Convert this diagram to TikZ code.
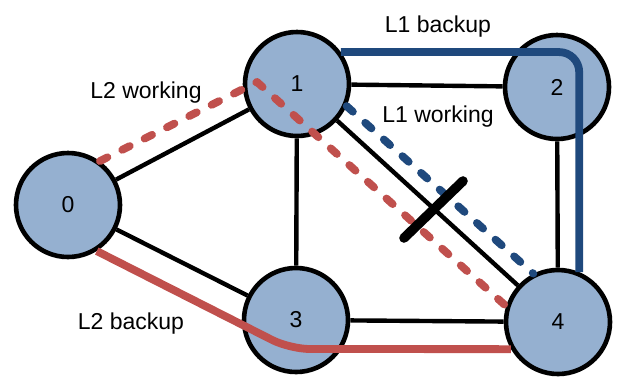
\documentclass[tikz,border=0pt]{standalone}
\usepackage{fontspec}
\setmainfont{Liberation Sans}
\usepackage{tikz}
\definecolor{nodefill}{RGB}{149,176,208}
\definecolor{pathred}{RGB}{192,80,77}
\definecolor{pathblue}{RGB}{31,73,125}

\begin{document}
\begin{tikzpicture}[x=50pt,y=50pt,
    router/.style={circle,draw,line width=2.3pt,fill=nodefill,minimum size=52pt,inner sep=0pt,font=\fontsize{11.5}{13}\selectfont},
    link/.style={line width=2.2pt},
    working/.style={line width=3.9pt,line cap=round,line join=round,dash pattern=on 4.2pt off 8.3pt},
    backup/.style={line width=3.9pt,rounded corners=10pt},
    lbl/.style={anchor=base,font=\fontsize{11.5}{13}\selectfont}]
    \useasboundingbox (0,0) rectangle (6.2,3.77);
    % routers
    \node[router] (n0) at (0.68,1.72) {0};
    \node[router] (n1) at (2.97,2.93) {1};
    \node[router] (n2) at (5.57,2.90) {2};
    \node[router] (n3) at (2.96,0.57) {3};
    \node[router] (n4) at (5.58,0.55) {4};
    % physical links
    \draw[link] (n0) -- (n1);
    \draw[link] (n0) -- (n3);
    \draw[link] (n1) -- (n2);
    \draw[link] (n1) -- (n3);
    \draw[link] (n1) -- (n4);
    \draw[link] (n2) -- (n4);
    \draw[link] (n3) -- (n4);
    % lightpaths
    \coordinate (l2top) at (2.57,2.95);
    \coordinate (l2bend) at (2.90,0.28);
    \draw[working,pathred] (n0.54) -- (l2top) -- (n4.163);
    \draw[working,pathblue] (n1.-24) -- (n4.117);
    \draw[backup,pathblue] (n1.36) -| (n4.67);
    \draw[backup,pathred] (n0.-58) -- (l2bend) -- (n4.210);
    % failed link 1-4
    \draw[line width=4.8pt,line cap=round] (4.04,1.39) -- (4.63,1.96);
    \node[lbl] (l1b) at (4.38,3.45) {L1 backup};
    \node[lbl] (l1w) at (4.38,2.55) {L1 working};
    \node[lbl] (l2w) at (1.46,2.79) {L2 working};
    \node[lbl] (l2b) at (1.31,0.48) {L2 backup};
\end{tikzpicture}
\end{document}
